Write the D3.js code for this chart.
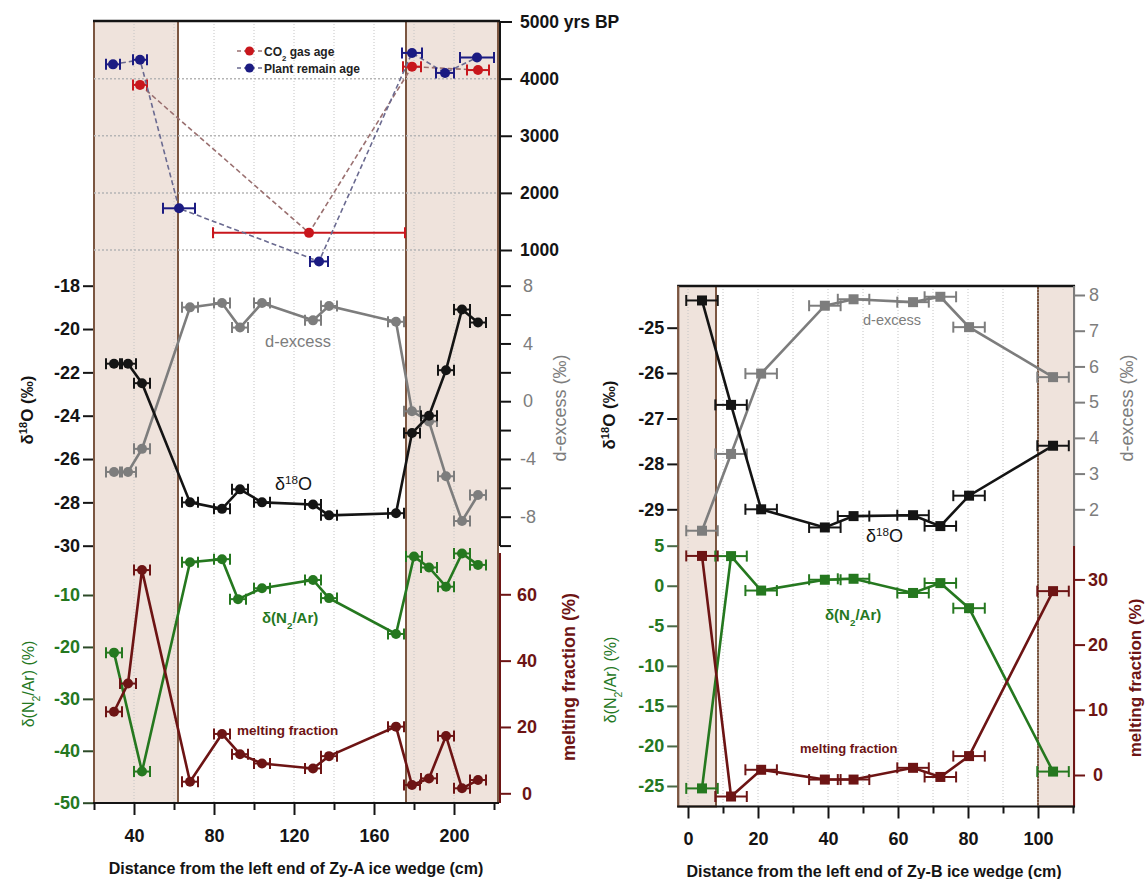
<!DOCTYPE html>
<html lang="en">
<head>
<meta charset="UTF-8">
<title>Zy-A and Zy-B ice wedge profiles</title>
<script src="https://d3js.org/d3.v7.min.js"></script>
<style>
  body { margin: 0; background: #fff; font-family: "Liberation Sans", Arial, sans-serif; }
  svg { display: block; }
</style>
</head>
<body>
<svg id="chart" width="1147" height="879"></svg>
<script>
// ---- Zy-A ages (yrs BP), position in cm, half-width of the position error bar
const plantPos = [29.5, 43, 62.5, 132.5, 179, 195.5, 211.5];
const plantAge = [4250, 4330, 1730, 800, 4450, 4100, 4370];
const plantErr = [3.5, 3.5, 8, 4.5, 5, 4.5, 8.5];
const gasPos = [43, 127.5, 179, 212];
const gasAge = [3890, 1300, 4210, 4150];
const gasErr = [3.5, 48, 4.5, 5.5];

// ---- Zy-A isotopes and gases
const posA = [30, 37, 44, 68, 84, 93, 104, 129.5, 137.5, 171, 179, 187.5, 196, 204, 212];
const d18oA = [-21.6, -21.6, -22.5, -28.0, -28.3, -27.4, -28.0, -28.1, -28.6, -28.5, -24.8, -24.0, -21.9, -19.1, -19.7];
const dexA = [-4.9, -4.9, -3.3, 6.5, 6.8, 5.1, 6.8, 5.6, 6.6, 5.5, -0.7, -1.4, -5.2, -8.3, -6.5];
const meltA = [24.6, 33.1, 67.3, 3.5, 17.9, 11.8, 9.0, 7.5, 11.2, 20.1, 2.5, 4.5, 17.3, 1.5, 4.0];
const n2PosA = [30, 44, 68, 84, 92, 104, 129.5, 137.5, 171, 180, 187.5, 196, 204, 212];
const n2A = [-21.1, -44.0, -3.7, -3.1, -10.8, -8.7, -7.1, -10.6, -17.5, -2.6, -4.7, -8.4, -2.0, -4.2];
const errA = 4;

// ---- Zy-B
const posB = [4, 12.3, 20.9, 39.1, 47.3, 64.3, 72.1, 80.3, 104.3];
const d18oB = [-24.4, -26.7, -29.0, -29.4, -29.15, -29.13, -29.37, -28.7, -27.6];
const dexB = [1.4, 3.55, 5.8, 7.7, 7.88, 7.8, 7.95, 7.1, 5.7];
const n2B = [-25.3, 3.7, -0.6, 0.75, 0.87, -0.9, 0.33, -2.8, -23.2];
const meltB = [33.6, -3.3, 0.8, -0.7, -0.7, 1.1, -0.3, 2.9, 28.2];
const errB = 4.5;

// shaded (ice wedge) intervals, cm
const shadeA = [[20, 62], [176, 222]];
const shadeB = [[-2.8, 8], [100, 110.3]];

// tick values
const ageTicks = [1000, 2000, 3000, 4000, 5000];
const d18oTicksA = [-18, -20, -22, -24, -26, -28, -30];
const dexTicksA = [8, 6, 4, 2, 0, -2, -4, -6, -8, -10];
const n2TicksA = [-10, -20, -30, -40, -50];
const meltTicksA = [0, 20, 40, 60];
const xTicksA = [20, 40, 60, 80, 100, 120, 140, 160, 180, 200, 220];
const d18oTicksB = [-25, -26, -27, -28, -29];
const dexTicksB = [2, 3, 4, 5, 6, 7, 8];
const n2TicksB = [5, 0, -5, -10, -15, -20, -25];
const meltTicksB = [0, 10, 20, 30];
const xTicksB = [0, 10, 20, 30, 40, 50, 60, 70, 80, 90, 100, 110];

const C = {
  black: "#141414", gray: "#7d7d7d", green: "#25781f", maroon: "#6d1414",
  navy: "#1b1b82", red: "#c8161c", shade: "#efe3dc", edge: "#7b5641", grid: "#c4c4c4"
};

const svg = d3.select("#chart");

// scales
const xA = d3.scaleLinear().domain([20, 222]).range([94, 498]);
const ageY = d3.scaleLinear().domain([1000, 5000]).range([250, 21.5]);
const d18AY = d3.scaleLinear().domain([-18, -30]).range([285.7, 545.7]);
const dexAY = d3.scaleLinear().domain([8, -8]).range([285.7, 516.7]);
const n2AY = d3.scaleLinear().domain([-10, -50]).range([595, 802.7]);
const meltAY = d3.scaleLinear().domain([0, 60]).range([793.3, 594.3]);

const xB = d3.scaleLinear().domain([0, 100]).range([688, 1038]);
const d18BY = d3.scaleLinear().domain([-25, -29]).range([327.7, 509.3]);
const dexBY = d3.scaleLinear().domain([8, 2]).range([295, 509.3]);
const n2BY = d3.scaleLinear().domain([5, -25]).range([545.7, 786]);
const meltBY = d3.scaleLinear().domain([0, 30]).range([775, 579.4]);

const A = { top: 21, bottom: 803 };
const B = { top: 286, mid: 546, bottom: 806.5 };

// ---------- background: shading and grid
shadeA.forEach(([a, b]) => {
  svg.append("rect").attr("x", xA(a)).attr("y", A.top).attr("width", xA(b) - xA(a))
    .attr("height", A.bottom - A.top).attr("fill", C.shade)
    .attr("stroke", C.edge).attr("stroke-width", 2);
});
shadeB.forEach(([a, b]) => {
  svg.append("rect").attr("x", xB(a)).attr("y", B.top).attr("width", xB(b) - xB(a))
    .attr("height", B.bottom - B.top).attr("fill", C.shade)
    .attr("stroke", C.edge).attr("stroke-width", 2);
});

d3.range(40, 201, 20).forEach(v => {
  svg.append("line").attr("x1", xA(v)).attr("x2", xA(v)).attr("y1", A.top).attr("y2", A.bottom)
    .attr("stroke", C.grid).attr("stroke-dasharray", "1,2");
});
d3.range(0, 101, 10).forEach(v => {
  svg.append("line").attr("x1", xB(v)).attr("x2", xB(v)).attr("y1", B.top).attr("y2", B.bottom)
    .attr("stroke", C.grid).attr("stroke-dasharray", "1,2");
});
[1000, 2000, 3000, 4000].forEach(v => {
  svg.append("line").attr("x1", xA(20)).attr("x2", xA(222)).attr("y1", ageY(v)).attr("y2", ageY(v))
    .attr("stroke", "#b5b5b5").attr("stroke-width", 1.5).attr("stroke-dasharray", "2,2");
});

// ---------- series helper
function series(pos, vals, err, x, y, color, opt = {}) {
  const g = svg.append("g");
  const pts = pos.map((p, i) => ({ p, v: vals[i], e: Array.isArray(err) ? err[i] : err }));
  g.append("path").datum(pts)
    .attr("d", d3.line().x(d => x(d.p)).y(d => y(d.v)))
    .attr("fill", "none")
    .attr("stroke", opt.lineColor || color)
    .attr("stroke-width", opt.lw || 2.6)
    .attr("stroke-dasharray", opt.dash || null);
  const eb = g.selectAll(".eb").data(pts).enter().append("g");
  eb.append("line").attr("x1", d => x(d.p - d.e)).attr("x2", d => x(d.p + d.e))
    .attr("y1", d => y(d.v)).attr("y2", d => y(d.v)).attr("stroke", color).attr("stroke-width", 2);
  [-1, 1].forEach(s => {
    eb.append("line").attr("x1", d => x(d.p + s * d.e)).attr("x2", d => x(d.p + s * d.e))
      .attr("y1", d => y(d.v) - 5.5).attr("y2", d => y(d.v) + 5.5)
      .attr("stroke", color).attr("stroke-width", 2);
  });
  if (opt.square) {
    g.selectAll(".m").data(pts).enter().append("rect")
      .attr("x", d => x(d.p) - 5).attr("y", d => y(d.v) - 5)
      .attr("width", 10).attr("height", 10).attr("fill", color);
  } else {
    g.selectAll(".m").data(pts).enter().append("circle")
      .attr("cx", d => x(d.p)).attr("cy", d => y(d.v)).attr("r", opt.r || 5).attr("fill", color);
  }
}

// ---------- Zy-A ages
series(gasPos, gasAge, gasErr, xA, ageY, C.red, { lineColor: "#9a7070", lw: 1.6, dash: "5,3" });
series(plantPos, plantAge, plantErr, xA, ageY, C.navy, { lineColor: "#6a6a90", lw: 1.6, dash: "5,3" });

// ---------- Zy-A profiles
series(posA, dexA, errA, xA, dexAY, C.gray);
series(posA, d18oA, errA, xA, d18AY, C.black);
series(n2PosA, n2A, errA, xA, n2AY, C.green);
series(posA, meltA, errA, xA, meltAY, C.maroon);

// ---------- Zy-B profiles
series(posB, dexB, errB, xB, dexBY, C.gray, { square: true });
series(posB, d18oB, errB, xB, d18BY, C.black, { square: true });
series(posB, n2B, errB, xB, n2BY, C.green, { square: true });
series(posB, meltB, errB, xB, meltBY, C.maroon, { square: true });

// ---------- axes
function yAxis(scale, ticks, x, side, color, y1, y2, opt = {}) {
  const ax = (side === "left" ? d3.axisLeft(scale) : d3.axisRight(scale))
    .tickValues(ticks).tickSize(opt.size || 11).tickPadding(opt.pad || 3)
    .tickFormat(opt.fmt || (d => d));
  const g = svg.append("g").attr("transform", `translate(${x},0)`).call(ax);
  g.select(".domain").remove();
  g.selectAll(".tick line").attr("stroke", opt.tickColor || color).attr("stroke-width", 2);
  g.selectAll(".tick text").attr("fill", color)
    .style("font-size", (opt.fs || 18) + "px")
    .style("font-weight", opt.weight || "bold")
    .style("font-family", '"Liberation Sans", Arial, sans-serif');
  if (opt.anchor) g.selectAll(".tick text").attr("text-anchor", opt.anchor).attr("x", opt.tx);
  svg.append("line").attr("x1", x).attr("x2", x).attr("y1", y1).attr("y2", y2)
    .attr("stroke", opt.lineColor || color).attr("stroke-width", 2);
  return g;
}

function xAxis(scale, ticks, y, x1, x2, labelEvery) {
  const ax = d3.axisBottom(scale).tickValues(ticks).tickSize(12).tickPadding(14)
    .tickFormat(d => d % labelEvery === 0 ? d : "");
  const g = svg.append("g").attr("transform", `translate(0,${y})`).call(ax);
  g.select(".domain").remove();
  g.selectAll(".tick line").attr("stroke", C.black).attr("stroke-width", 2)
    .attr("y2", d => d % labelEvery === 0 ? 12 : 7);
  g.selectAll(".tick text").attr("fill", C.black).style("font-size", "18px")
    .style("font-weight", "bold").style("font-family", '"Liberation Sans", Arial, sans-serif');
  svg.append("line").attr("x1", x1).attr("x2", x2).attr("y1", y).attr("y2", y)
    .attr("stroke", C.black).attr("stroke-width", 2);
}

// Zy-A
svg.append("line").attr("x1", xA(20) - 1).attr("x2", xA(222) + 2).attr("y1", A.top).attr("y2", A.top)
  .attr("stroke", C.black).attr("stroke-width", 2.5);
yAxis(ageY, ageTicks, 500, "right", C.black, A.top, 282, {
  size: 12, pad: 8, fs: 17.5, fmt: d => d === 5000 ? "5000 yrs BP" : d
});
yAxis(d18AY, d18oTicksA, 94, "left", C.black, 280, 546, { lineColor: C.edge });
yAxis(n2AY, n2TicksA, 94, "left", C.green, 546, A.bottom, { lineColor: C.edge, tickColor: "#2c4a28" });
yAxis(dexAY, dexTicksA, 500, "right", C.gray, 282, 546, {
  fmt: d => d % 4 === 0 ? d : "", weight: "normal", tickColor: C.black, lineColor: C.black,
  anchor: "middle", tx: 28
});
yAxis(meltAY, meltTicksA, 500, "right", C.maroon, 553, A.bottom, { anchor: "middle", tx: 27 });
xAxis(xA, xTicksA, A.bottom, xA(20) - 1, xA(222) + 1, 40);

// Zy-B
svg.append("line").attr("x1", xB(-2.8) - 1).attr("x2", xB(110.3) + 1).attr("y1", B.top).attr("y2", B.top)
  .attr("stroke", C.black).attr("stroke-width", 2.5);
yAxis(d18BY, d18oTicksB, xB(-2.8), "left", C.black, B.top, B.mid, { lineColor: C.edge });
yAxis(n2BY, n2TicksB, xB(-2.8), "left", C.green, B.mid, B.bottom, { lineColor: C.edge, tickColor: "#4a6a46" });
yAxis(dexBY, dexTicksB, xB(110.3), "right", C.gray, B.top, B.mid, {
  weight: "normal", anchor: "middle", tx: 20
});
yAxis(meltBY, meltTicksB, xB(110.3), "right", C.maroon, B.mid, B.bottom, { anchor: "middle", tx: 24 });
xAxis(xB, xTicksB, B.bottom, xB(-2.8) - 1, xB(110.3) + 1, 20);

// ---------- text helper
function label(x, y, parts, color, fs, weight, rotate, anchor) {
  const t = svg.append("text")
    .attr("transform", `translate(${x},${y})` + (rotate ? " rotate(-90)" : ""))
    .attr("text-anchor", anchor || (rotate ? "middle" : "start"))
    .attr("fill", color).style("font-size", fs + "px").style("font-weight", weight || "normal");
  parts.forEach(p => {
    if (typeof p === "string") t.append("tspan").text(p);
    else t.append("tspan").attr("baseline-shift", p.sup ? "super" : "sub")
      .style("font-size", (fs * 0.65) + "px").text(p.sup || p.sub);
  });
  return t;
}

// Legend (ages)
[[51, C.red, "#9a7070", ["CO", { sub: "2" }, " gas age"]],
 [68, C.navy, "#6a6a90", ["Plant remain age"]]].forEach(([y, col, lc, txt]) => {
  svg.append("line").attr("x1", 237).attr("x2", 262).attr("y1", y).attr("y2", y)
    .attr("stroke", lc).attr("stroke-width", 1.6).attr("stroke-dasharray", "4,3");
  svg.append("circle").attr("cx", 249.5).attr("cy", y).attr("r", 4.5).attr("fill", col);
  label(264, y + 4.5, txt, "#222", 12, "bold");
});

// in-plot labels, Zy-A
label(265, 347, ["d-excess"], C.gray, 16.5, "normal");
label(275, 490, ["δ", { sup: "18" }, "O"], C.black, 18, "normal");
label(262, 623, ["δ(N", { sub: "2" }, "/Ar)"], C.green, 15, "bold");
label(237, 735, ["melting fraction"], C.maroon, 13.5, "bold");

// in-plot labels, Zy-B
label(863, 325, ["d-excess"], C.gray, 14.5, "normal");
label(866, 542, ["δ", { sup: "18" }, "O"], C.black, 18, "normal");
label(825, 620, ["δ(N", { sub: "2" }, "/Ar)"], C.green, 15, "bold");
label(800, 753, ["melting fraction"], C.maroon, 13, "bold");

// axis titles, Zy-A
label(33, 410, ["δ", { sup: "18" }, "O (‰)"], C.black, 17, "bold", true);
label(34, 684, ["δ(N", { sub: "2" }, "/Ar) (%)"], C.green, 16, "normal", true);
label(566, 408, ["d-excess (‰)"], C.gray, 18, "normal", true);
label(575, 677, ["melting fraction (%)"], C.maroon, 18, "bold", true);
label(296, 874, ["Distance from the left end of Zy-A ice wedge (cm)"], C.black, 16, "bold", false, "middle");

// axis titles, Zy-B
label(615, 415, ["δ", { sup: "18" }, "O (‰)"], C.black, 17, "bold", true);
label(616, 680, ["δ(N", { sub: "2" }, "/Ar) (%)"], C.green, 16, "normal", true);
label(1133, 408, ["d-excess (‰)"], C.gray, 18, "normal", true);
label(1141, 678, ["melting fraction (%)"], C.maroon, 17, "bold", true);
label(874, 877, ["Distance from the left end of Zy-B ice wedge (cm)"], C.black, 16, "bold", false, "middle");
</script>
</body>
</html>
